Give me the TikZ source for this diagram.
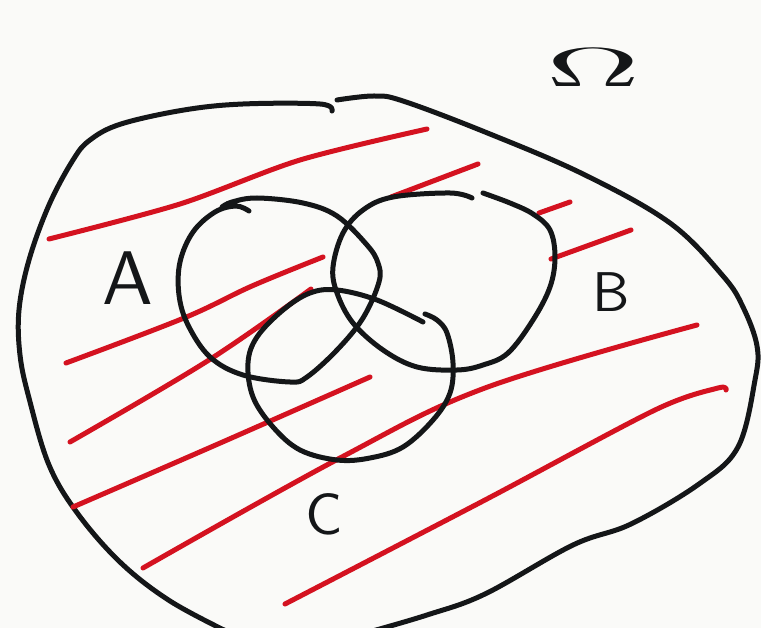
\documentclass[tikz,border=0pt]{standalone}
\definecolor{inkc}{RGB}{20,22,24}
\definecolor{redc}{RGB}{212,18,32}
\definecolor{bgc}{RGB}{250,250,248}
\begin{document}
\begin{tikzpicture}[x=1pt,y=-1pt,
  ink/.style={line width=5pt,line cap=round,line join=round,draw=inkc},
  redink/.style={line width=5pt,line cap=round,line join=round,draw=redc},
  lbl/.style={text=inkc,inner sep=0pt,font=\sffamily}]
\fill[bgc] (0,0) rectangle (761,628);
\useasboundingbox (0,0) rectangle (761,628);
% outer region
\draw[ink] plot[smooth,tension=0.6] coordinates {(332,111) (320,104) (243,104) (184,110) (121,124) (90,140) (73,160) (49,205) (29,260) (19,310) (20,355) (29,398) (49,465) (78,514) (121,563) (170,601) (228,632)};
\draw[ink] plot[smooth,tension=0.6] coordinates {(337,100) (374,96) (403,101) (485,132) (583,174) (670,223) (723,276) (743,307) (757,346) (755,380) (738,447) (699,484) (631,524) (573,545) (485,594) (427,615) (369,632)};
% red hatch lines
\draw[redink] plot[smooth,tension=0.5] coordinates {(49,239) (180,204) (300,160) (427,129)};
\draw[redink] (391,197) -- (478,164);
\draw[redink] (539,213) -- (570,202);
\draw[redink] (551,259) -- (631,230);
\draw[redink] plot[smooth,tension=0.6] coordinates {(66,363) (184,318) (252,286) (323,257)};
\draw[redink] plot[smooth,tension=0.6] coordinates {(70,442) (209,360) (311,289)};
\draw[redink] plot[smooth,tension=0.6] coordinates {(73,507) (218,444) (370,377)};
\draw[redink] plot[smooth,tension=0.6] coordinates {(143,568) (340,458) (485,388) (697,325)};
\draw[redink] plot[smooth,tension=0.5] coordinates {(285,604) (485,500) (655,410) (718,388) (726,390)};
% circle A
\draw[ink] plot[smooth,tension=0.6] coordinates {(249,211) (236,206) (215,212) (193,232) (180,262) (179,295) (188,325) (210,357) (243,375) (290,382) (307,377) (337,350) (363,318) (379,282) (378,263) (367,245) (337,216) (303,203) (257,198) (232,202) (222,207)};
% circle B
\draw[ink] plot[smooth,tension=0.6] coordinates {(472,198) (450,193) (393,197) (363,210) (343,233) (333,267) (337,293) (353,323) (383,350) (417,367) (457,370) (483,365) (508,353) (533,320) (550,287) (555,257) (550,230) (533,214) (510,203) (483,193)};
% circle C
\draw[ink] plot[smooth,tension=0.6] coordinates {(423,322) (377,300) (337,290) (310,293) (283,310) (257,337) (248,363) (253,397) (273,427) (300,450) (337,460) (370,458) (403,447) (433,420) (450,393) (453,363) (447,333) (437,320) (425,314)};
% labels
\node[lbl] (la) at (128,278) {\scalebox{7.6}{A}};
\node[lbl] (lb) at (611,292) {\scalebox{5.6}{B}};
\node[lbl] (lc) at (324,514) {\scalebox{5.8}{C}};
\node[lbl] (lo) at (593,68) {\scalebox{13}[5.5]{$\Omega$}};
\end{tikzpicture}
\end{document}
